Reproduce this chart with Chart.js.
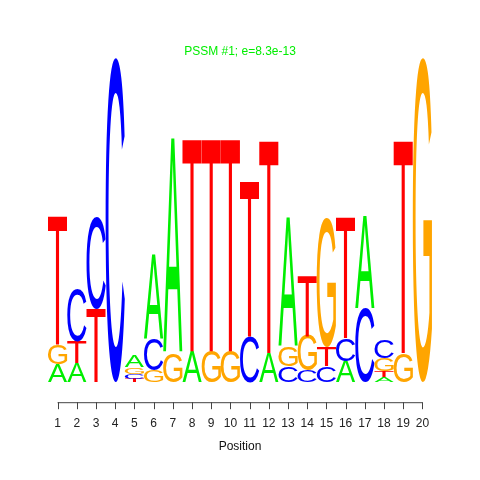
<!DOCTYPE html>
<html>
<head>
<meta charset="utf-8">
<script src="https://cdn.jsdelivr.net/npm/chart.js@4"></script>
<style>
html,body{margin:0;padding:0;background:#fff;}
#wrap{width:480px;height:480px;}
</style>
</head>
<body>
<div id="wrap"><canvas id="c" width="480" height="480"></canvas></div>
<script>
// Positions (x categories)
const positions = ['1','2','3','4','5','6','7','8','9','10','11','12','13','14','15','16','17','18','19','20'];
// Letter heights in bits
const A = [0.11, 0.12, 0,    0,    0.07, 0.52, 1.32, 0.19, 0,    0,    0,    0.18, 0.79, 0,     0,    0.13,  0.57, 0.03, 0,    0];
const C = [0,    0.32, 0.57, 1.995, 0.03, 0.19, 0,   0,    0,    0,    0.28, 0,    0.10, 0.07,  0.10, 0.14,  0.45, 0.11, 0,    0];
const G = [0.12, 0,    0,    0,    0.04, 0.07, 0.18, 0,    0.19, 0.19, 0,    0,    0.12, 0.215, 0.79, 0,     0,    0.08, 0.18, 1.995];
const T = [0.79, 0.13, 0.45, 0,    0.02, 0,    0,    1.31, 1.31, 1.31, 0.96, 1.31, 0,    0.37,  0.12, 0.745, 0,    0.04, 1.31, 0];
const titleText = 'PSSM #1; e=8.3e-13';
const xTitle = 'Position';

const letterColors = {A:'#00EE00', C:'#0000FF', G:'#FFA500', T:'#FF0000'};
const series = {A, C, G, T};
const letters = ['A','C','G','T'];

// build stacking layers: smallest letter at bottom
const layers = [[],[],[],[]];
positions.forEach((p, i) => {
  const arr = letters.map(l => ({l, v: series[l][i]})).sort((a,b) => a.v - b.v);
  arr.forEach((o, k) => layers[k].push(o));
});
const datasets = layers.map((layer, k) => ({
  label: 'layer' + k,
  data: layer.map(o => o.v),
  letters: layer.map(o => o.l),
  backgroundColor: 'rgba(0,0,0,0)',
  borderWidth: 0,
  categoryPercentage: 1.0,
  barPercentage: 1.0
}));

const logoPlugin = {
  id: 'logo',
  afterDatasetsDraw(chart) {
    const ctx = chart.ctx;
    const fontPx = 200;
    ctx.save();
    ctx.font = 'normal ' + fontPx + 'px "Liberation Sans", Arial, sans-serif';
    ctx.textAlign = 'left';
    ctx.textBaseline = 'alphabetic';
    chart.data.datasets.forEach((ds, di) => {
      const meta = chart.getDatasetMeta(di);
      meta.data.forEach((el, i) => {
        const v = ds.data[i];
        if (!v) return;
        const {x, y, base, width} = el.getProps(['x','y','base','width'], true);
        const h = base - y;
        if (h <= 0.2) return;
        const L = ds.letters[i];
        const m = ctx.measureText(L);
        const gl = m.actualBoundingBoxLeft, gr = m.actualBoundingBoxRight;
        const ga = m.actualBoundingBoxAscent, gd = m.actualBoundingBoxDescent;
        const gw = gl + gr, gh = ga + gd;
        ctx.save();
        ctx.translate(x - width/2, y);
        ctx.scale(width / gw, h / gh);
        ctx.fillStyle = letterColors[L];
        ctx.fillText(L, gl, ga);
        ctx.restore();
      });
    });
    // x axis line and ticks (R style)
    const xs = chart.scales.x;
    const ay = chart.chartArea.bottom + 20;
    const x0 = xs.getPixelForTick(0), x1 = xs.getPixelForTick(positions.length - 1);
    ctx.strokeStyle = '#444';
    ctx.lineWidth = 1;
    ctx.beginPath();
    ctx.moveTo(x0, ay + 0.5); ctx.lineTo(x1, ay + 0.5);
    for (let i = 0; i < positions.length; i++) {
      const px = Math.round(xs.getPixelForTick(i)) + 0.5;
      ctx.moveTo(px, ay); ctx.lineTo(px, ay + 7);
    }
    ctx.stroke();
    ctx.restore();
  }
};

new Chart(document.getElementById('c'), {
  type: 'bar',
  data: { labels: positions, datasets },
  options: {
    responsive: false,
    animation: false,
    devicePixelRatio: 1,
    layout: { padding: { left: 48, right: 48, top: 47, bottom: 0 } },
    plugins: {
      legend: { display: false },
      tooltip: { enabled: false },
      title: {
        display: true,
        text: titleText,
        color: '#00EE00',
        font: { family: '"Liberation Sans", Arial, sans-serif', size: 12, weight: 'normal', lineHeight: 0.8 },
        padding: { top: 0, bottom: 0 }
      }
    },
    scales: {
      x: {
        stacked: true,
        grid: { display: false, drawTicks: false },
        border: { display: false },
        ticks: {
          color: '#222',
          font: { family: '"Liberation Sans", Arial, sans-serif', size: 12 },
          padding: 34,
          maxRotation: 0,
          autoSkip: false
        },
        title: {
          display: true,
          text: xTitle,
          color: '#111',
          font: { family: '"Liberation Sans", Arial, sans-serif', size: 12 },
          padding: { top: -25, bottom: 26 }
        }
      },
      y: {
        stacked: true,
        display: false,
        min: 0,
        max: 2
      }
    }
  },
  plugins: [logoPlugin]
});
</script>
</body>
</html>
